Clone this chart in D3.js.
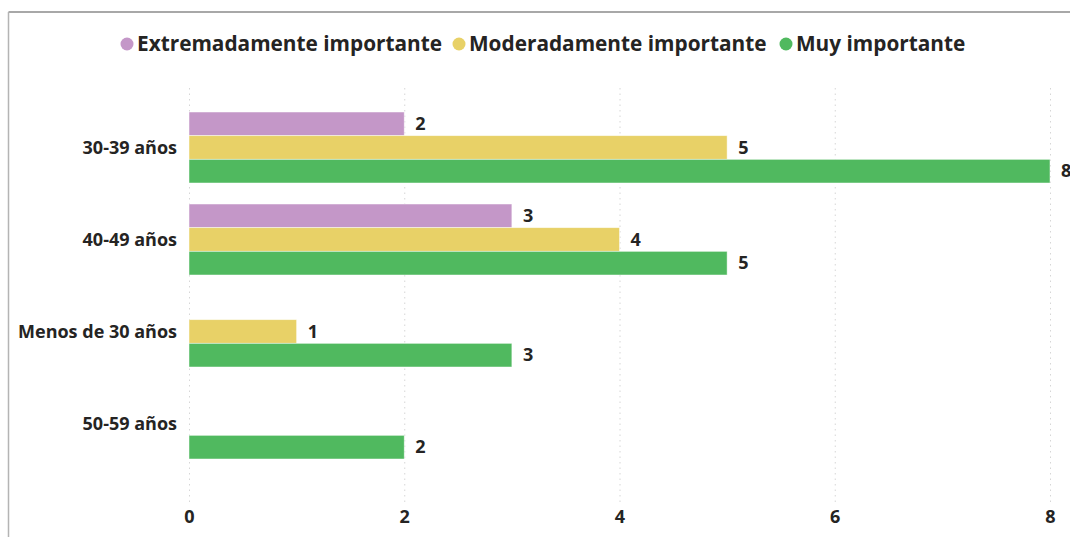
<!DOCTYPE html>
<html>
<head>
<meta charset="utf-8">
<script src="https://cdn.jsdelivr.net/npm/d3@7"></script>
<style>
  html, body { margin: 0; padding: 0; background: #fff; }
  svg { display: block; font-family: "Open Sans", "Noto Sans", sans-serif; }
</style>
</head>
<body>
<svg id="chart" width="1070" height="537"></svg>
<script>
// Age groups (top to bottom)
const categories = ["30-39 años", "40-49 años", "Menos de 30 años", "50-59 años"];
// Importance levels, in legend and bar order
const series = ["Extremadamente importante", "Moderadamente importante", "Muy importante"];
const seriesColors = ["#C497C8", "#E8D167", "#50B95F"];
// Counts per age group; null = no responses
const extremadamente = [2, 3, null, null];
const moderadamente = [5, 4, 1, null];
const muy = [8, 5, 3, 2];
const xTicks = [0, 2, 4, 6, 8];

const valuesBySeries = [extremadamente, moderadamente, muy];

const svg = d3.select("#chart");
const W = 1070, H = 537;
const labelSize = 18;

// panel frame
svg.append("line").attr("x1", 8.5).attr("x2", W).attr("y1", 12).attr("y2", 12)
  .attr("stroke", "#a8a8a8").attr("stroke-width", 2);
svg.append("line").attr("x1", 8.5).attr("x2", 8.5).attr("y1", 12).attr("y2", H)
  .attr("stroke", "#b4b4b4").attr("stroke-width", 1.5);

const x = d3.scaleLinear().domain([0, 8]).range([189, 1050]);
const y = d3.scaleBand().domain(categories).range([101.5, 469.5])
  .paddingInner(21 / 92).paddingOuter(21 / 184);
const ySub = d3.scaleBand().domain(series).range([0, y.bandwidth()]);

// vertical dotted gridlines
svg.append("g").selectAll("line").data(xTicks).join("line")
  .attr("x1", d => x(d) + 0.5).attr("x2", d => x(d) + 0.5)
  .attr("y1", 88).attr("y2", 502)
  .attr("stroke", "#d6d6d6").attr("stroke-width", 1)
  .attr("stroke-dasharray", "1.5,4");

// x axis tick labels
const xAxis = d3.axisBottom(x).tickValues(xTicks).tickSize(0).tickPadding(0);
const gx = svg.append("g").attr("transform", "translate(0,510)").call(xAxis);
gx.select(".domain").remove();
gx.selectAll("text").attr("font-size", labelSize).attr("font-weight", 700)
  .attr("fill", "#252423").attr("font-family", "'Open Sans', sans-serif");

// y axis category labels
const yAxis = d3.axisLeft(y).tickSize(0).tickPadding(0);
const gy = svg.append("g").attr("transform", "translate(177,1)").call(yAxis);
gy.select(".domain").remove();
gy.selectAll("text").attr("font-size", labelSize).attr("font-weight", 700)
  .attr("fill", "#252423").attr("font-family", "'Open Sans', sans-serif");

// bars
const rows = [];
categories.forEach((c, i) => {
  series.forEach((s, j) => {
    const v = valuesBySeries[j][i];
    if (v != null) rows.push({ cat: c, ser: s, idx: j, value: v });
  });
});

const bars = svg.append("g");
bars.selectAll("rect").data(rows).join("rect")
  .attr("x", x(0))
  .attr("y", d => y(d.cat) + ySub(d.ser))
  .attr("width", d => x(d.value) - x(0))
  .attr("height", ySub.bandwidth())
  .attr("fill", d => seriesColors[d.idx])
  .attr("stroke", "#ffffff").attr("stroke-opacity", 0.6).attr("stroke-width", 0.8);

// value labels
svg.append("g").selectAll("text").data(rows).join("text")
  .attr("x", d => x(d.value) + 11)
  .attr("y", d => y(d.cat) + ySub(d.ser) + ySub.bandwidth() / 2)
  .attr("dy", "0.35em")
  .attr("font-size", labelSize).attr("font-weight", 700).attr("fill", "#252423")
  .text(d => d.value);

// legend
const legendX = [127, 459, 786];
const lg = svg.append("g");
series.forEach((s, j) => {
  lg.append("circle").attr("cx", legendX[j]).attr("cy", 44).attr("r", 6.5)
    .attr("fill", seriesColors[j]);
  lg.append("text").attr("x", legendX[j] + 10).attr("y", 44).attr("dy", "0.35em")
    .attr("font-size", 20.8).attr("font-weight", 700).attr("fill", "#252423")
    .text(s);
});
</script>
</body>
</html>
